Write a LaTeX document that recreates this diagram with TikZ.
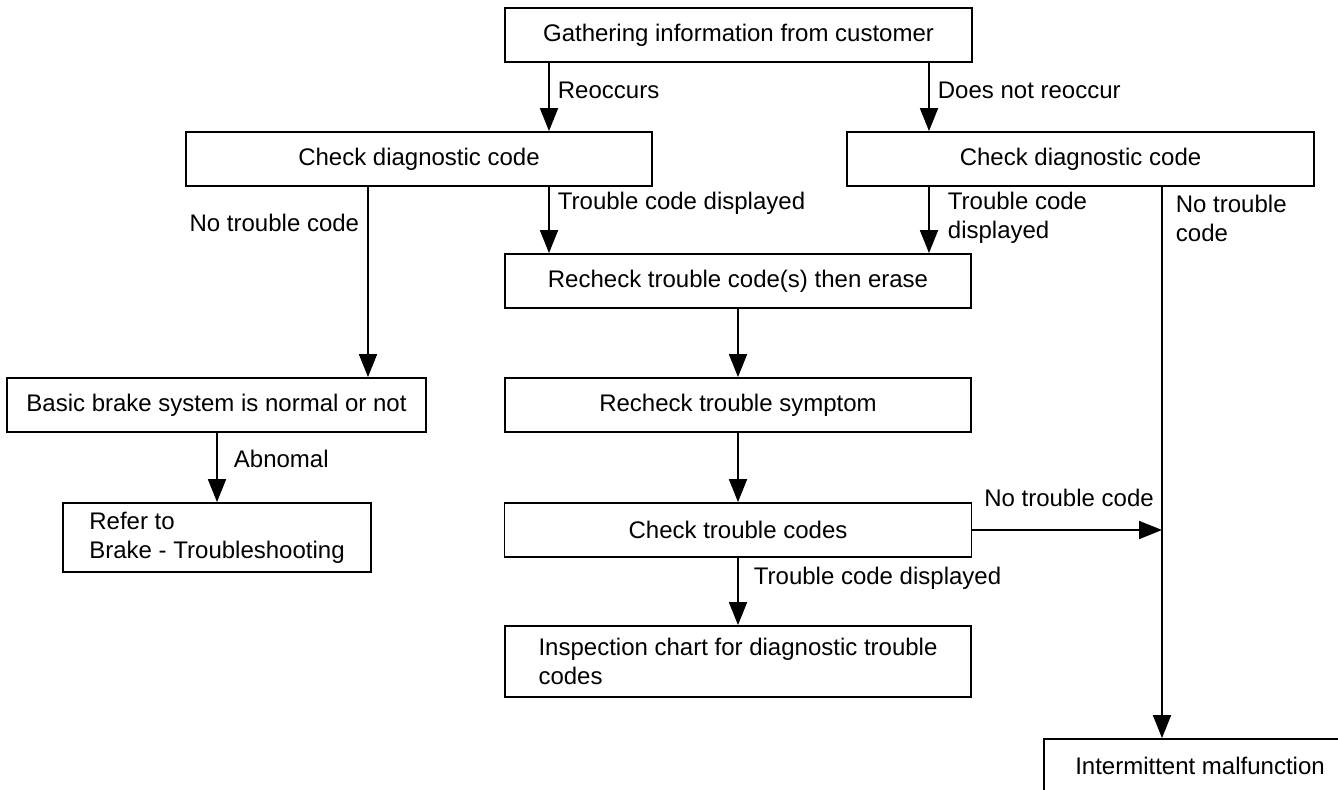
\documentclass[tikz,border=0pt]{standalone}
\usepackage{fontspec}
\setmainfont{Liberation Sans}
\usetikzlibrary{arrows.meta}
\tikzset{
  every picture/.style={
    line width=0.9pt,
    >={Triangle[width=9pt, length=11.5pt]}
  },
  every node/.style={font=\fontsize{12pt}{14.5pt}\selectfont},
  box/.style={
    draw, rectangle, minimum height=27pt,
    inner sep=0pt, align=center
  },
  lbl/.style={inner sep=4pt, align=left}
}

\begin{document}
\begin{tikzpicture}[x=0.5pt, y=-0.5pt]
  \useasboundingbox (0,0) rectangle (1338,790);
  % vertical lanes of the connectors
  \coordinate (laneA) at (217,0);
  \coordinate (laneB) at (368,0);
  \coordinate (laneC) at (549,0);
  \coordinate (laneE) at (929,0);
  \coordinate (laneF) at (1162,0);

  \node [box, minimum width=233.5pt] (gather) at (738.5,35) {Gathering information from customer};
  \node [box, minimum width=233pt] (chkL) at (419,159) {Check diagnostic code};
  \node [box, minimum width=233.5pt] (chkR) at (1080.5,159) {Check diagnostic code};
  \node [box, minimum width=233pt] (recheck) at (738,281) {Recheck trouble code(s) then erase};
  \node [box, minimum width=209.5pt] (basic) at (216.5,405) {Basic brake system is normal or not};
  \node [box, minimum width=233pt] (symptom) at (738,405) {Recheck trouble symptom};
  \node [box, minimum width=233.5pt] (codes) at (738,530) {Check trouble codes};
  \node [box, minimum width=154pt, minimum height=34.5pt, align=left] (refer) at (217,537.5)
    {Refer to\\Brake - Troubleshooting};
  \node [box, minimum width=233pt, minimum height=35.5pt, align=left] (inspect) at (738,661.5)
    {Inspection chart for diagnostic trouble\\codes};
  \node [box, minimum width=156pt] (interm) at (1200,766) {Intermittent malfunction};

  \draw [->] (gather.south -| laneC) -- (chkL.north -| laneC)
    node [lbl, pos=0.4, right] {Reoccurs};
  \draw [->] (gather.south -| laneE) -- (chkR.north -| laneE)
    node [lbl, pos=0.4, right] {Does not reoccur};
  \draw [->] (chkL.south -| laneC) -- (recheck.north -| laneC)
    node [lbl, pos=0.25, right] {Trouble code displayed};
  \draw [->] (chkL.south -| laneB) -- (basic.north -| laneB)
    node [lbl, pos=0.19, left] {No trouble code};
  \draw [->] (chkR.south -| laneE) -- (recheck.north -| laneE)
    node [lbl, pos=0.47, right, xshift=5pt] {Trouble code\\displayed};
  \draw [->] (chkR.south -| laneF) -- (interm.north -| laneF)
    node [lbl, pos=0.058, right, xshift=2.5pt] {No trouble\\code};
  \draw [->] (recheck) -- (symptom);
  \draw [->] (basic.south -| laneA) -- (refer.north -| laneA)
    node [lbl, pos=0.37, right, xshift=4pt] {Abnomal};
  \draw [->] (symptom) -- (codes);
  \draw [->] (codes.east) -- (codes.east -| laneF)
    node [lbl, pos=0, above right, xshift=1.5pt, yshift=7pt] {No trouble code};
  \draw [->] (codes) -- (inspect)
    node [lbl, pos=0.31, right, xshift=3.5pt] {Trouble code displayed};
\end{tikzpicture}
\end{document}
